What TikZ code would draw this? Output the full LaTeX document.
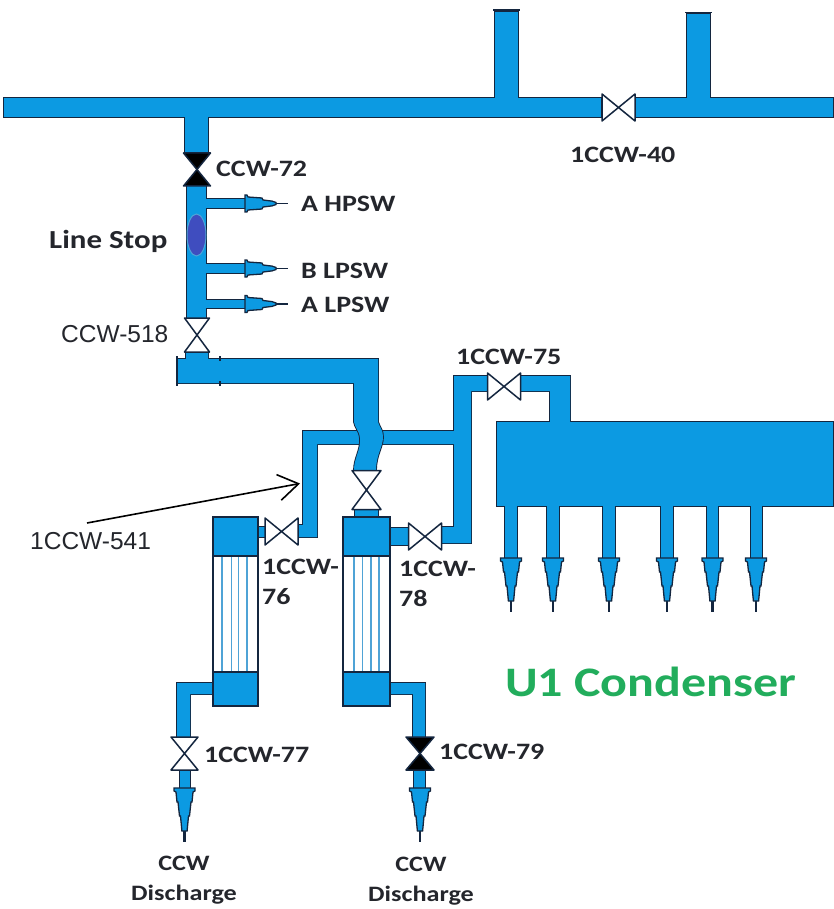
\documentclass[tikz,border=0pt]{standalone}
\usepackage{fontspec}
\setmainfont[FakeStretch=1.19]{Carlito}
\newfontfamily\arialf{Liberation Sans}
\usetikzlibrary{arrows.meta}
\definecolor{pipeblue}{HTML}{0C9AE2}
\definecolor{pipeedge}{HTML}{14263F}
\definecolor{tubeblue}{HTML}{4FA3D6}
\definecolor{stopblue}{HTML}{3F4DBF}
\definecolor{labelink}{HTML}{24262C}
\definecolor{greenlabel}{HTML}{22AD5C}
\tikzset{
  x=1pt,y=-1pt,
  outl/.style={draw=pipeedge,line width=1.8pt,line join=miter},
  inner/.style={fill=pipeblue,draw=none},
  tag/.style={font=\bfseries\fontsize{23.5}{30}\selectfont,text=labelink,inner sep=0pt,anchor=west,align=left},
  plain/.style={font=\arialf\fontsize{24.5}{28}\selectfont,text=labelink,inner sep=0pt,anchor=west},
  center tag/.style={tag,anchor=center,align=center},
  valve line/.style={draw=pipeedge,line width=1.5pt,line join=round},
}
% pipes of the upper header (drawn by a pass with style #1)
\newcommand\HeaderPipes[1]{
  \path[#1] (4,98) rectangle (601,117);
  \path[#1] (636,98) rectangle (833,117);
  \path[#1] (495,12) rectangle (518,98);
  \path[#1] (687,14) rectangle (710,98);
  \path[#1] (185,117) rectangle (208,153);
  \path[#1] (187,186) rectangle (206,318);
  \path[#1] (206,199) rectangle (246,208);
  \path[#1] (206,264) rectangle (246,273);
  \path[#1] (206,300) rectangle (246,308);
}
% pipes of the cooler and condenser network
\newcommand\LowerPipes[1]{
  \path[#1] (303,525) -- (303,431) -- (454,431) -- (454,527) -- (442,527) -- (442,543) -- (471,543) -- (471,391) -- (487,391) -- (487,376) -- (454,376) -- (454,444) -- (317,444) -- (317,537) -- (298,537) -- (298,525) -- cycle;
  \path[#1] (258,527) rectangle (266,537);
  \path[#1] (390,528) rectangle (408,545);
  \path[#1] (521,376) -- (570,376) -- (570,423) -- (550,423) -- (550,391) -- (521,391) -- cycle;
  \path[#1] (497,422) rectangle (833,506);
  \path[#1] (505,506) rectangle (517,558);
  \path[#1] (547,506) rectangle (559,558);
  \path[#1] (603,506) rectangle (615,558);
  \path[#1] (661,506) rectangle (673,558);
  \path[#1] (707,506) rectangle (718,558);
  \path[#1] (751,506) rectangle (762,558);
  \path[#1] (213,683) -- (177,683) -- (177,738) -- (190,738) -- (190,694) -- (213,694) -- cycle;
  \path[#1] (390,683) -- (425,683) -- (425,738) -- (413,738) -- (413,694) -- (390,694) -- cycle;
  \path[#1] (180,770) rectangle (190,790);
  \path[#1] (414,770) rectangle (425,790);
}
% the pipe from CCW-518 that crosses the network
\newcommand\CrossPipe[1]{
  \path[#1] (186,352) -- (186,359) -- (378,359) -- (378,422) .. controls (380,428) and (383,430) .. (383,437) .. controls (383,447) and (376,455) .. (376,470) -- (354,470) .. controls (354,458) and (361,450) .. (360,438) .. controls (359,430) and (355,428) .. (354,422) -- (354,383) -- (177,383) -- (177,359) -- (186,359) -- (208,359) -- (208,352) -- cycle;
}
% vertical valve: centre, half width, half height, fill
\newcommand\ValveV[5]{
  \draw[valve line,fill=#5] (#1-#3,#2-#4) -- (#1+#3,#2-#4) -- (#1-#3,#2+#4) -- (#1+#3,#2+#4) -- cycle;
}
% horizontal valve
\newcommand\ValveH[5]{
  \draw[valve line,fill=#5] (#1-#3,#2-#4) -- (#1-#3,#2+#4) -- (#1+#3,#2-#4) -- (#1+#3,#2+#4) -- cycle;
}
% stepped arrow pointing down; centre x, top y
\newcommand\HeadDown[2]{
  \begin{scope}[shift={(#1,#2)}]
    \draw[line width=2.2pt,pipeedge] (0,42) -- (0,54);
    \draw[outl,fill=pipeblue,line width=1.3pt] (-10.5,0) -- (-10.5,3) -- (-8.5,4) -- (-7.5,14) -- (-6.5,14) -- (-5,28) -- (-4,28) -- (-2.6,43) -- (2.6,43) -- (4,28) -- (5,28) -- (6.5,14) -- (7.5,14) -- (8.5,4) -- (10.5,3) -- (10.5,0) -- cycle;
  \end{scope}
}
% stepped arrow pointing right; left x, centre y
\newcommand\HeadRight[2]{
  \begin{scope}[shift={(#1,#2)}]
    \draw[line width=1.5pt,pipeedge] (27,0) -- (43,0);
    \draw[outl,fill=pipeblue,line width=1.3pt] (0,-8.5) -- (2,-8.5) -- (3,-6.5) -- (17,-5.5) -- (18,-3.5) -- (27,-2.4) -- (31,-1) -- (31,1) -- (27,2.4) -- (18,3.5) -- (17,5.5) -- (3,6.5) -- (2,8.5) -- (0,8.5) -- cycle;
  \end{scope}
}
% shell and tube cooler: left, right, then four tube x positions
\newcommand\Cooler[6]{
  \draw[pipeedge,line width=1.8pt,fill=white] (#1,517) rectangle (#2,706);
  \foreach \t in {#3,#4,#5,#6} \draw[tubeblue,line width=1.5pt] (\t,556) -- (\t,672);
  \draw[pipeedge,line width=1.4pt,fill=pipeblue] (#1,517) rectangle (#2,556);
  \draw[pipeedge,line width=1.4pt,fill=pipeblue] (#1,672) rectangle (#2,706);
}
\begin{document}
\begin{tikzpicture}
\useasboundingbox (0,0) rectangle (833,909);
\fill[white] (0,0) rectangle (833,909);

% header pipes
\HeaderPipes{outl}
\HeaderPipes{inner}
\draw[pipeedge,line width=1.6pt] (493,10) -- (520,10);
\draw[pipeedge,line width=1.6pt] (685,12.5) -- (712,12.5);

% network and crossing pipe
\LowerPipes{outl}
\LowerPipes{inner}
\CrossPipe{outl}
\CrossPipe{inner}
\draw[pipeedge,line width=1.6pt] (177,356) -- (177,386) (220,356) -- (220,361) (220,381) -- (220,386);

% line stop
\draw[draw=tubeblue,fill=stopblue,line width=1pt] (196.5,235) ellipse (9.5 and 21);

% arrows
\HeadRight{245}{203.5}
\HeadRight{245}{268.5}
\HeadRight{245}{304}
\foreach \c in {511,553,609,667,712.5,756} {\HeadDown{\c}{558}}
\HeadDown{184.5}{788}
\HeadDown{420}{788}

% coolers
\draw[pipeedge,line width=1pt,fill=pipeblue] (354,508) rectangle (378,517);
\Cooler{213}{258}{222}{231.5}{238.5}{247}
\Cooler{343}{390}{354}{362.5}{371}{379}

% valves
\ValveH{618.5}{107.5}{16.5}{13.5}{white}
\ValveV{197}{169.5}{13.5}{16.5}{black}
\ValveV{197}{335}{12.5}{17}{white}
\ValveV{366.5}{490}{14.5}{19.5}{white}
\ValveH{504}{386.5}{16.5}{13.5}{white}
\ValveH{281.5}{531.5}{16.5}{13.5}{white}
\ValveH{425}{536.5}{16.5}{13.5}{white}
\ValveV{184.5}{753.5}{13.5}{16.5}{white}
\ValveV{420}{753.5}{14}{16.5}{black}

% labels
\node[tag] (l40) at (570,155) {1CCW-40};
\node[tag] (l72) at (216,169) {CCW-72};
\node[tag] (lah) at (301,204) {A HPSW};
\node[tag] (lbl) at (301,271) {B LPSW};
\node[tag] (lal) at (301,305) {A LPSW};
\node[tag,font=\bfseries\fontsize{26}{30}\selectfont] (lstop) at (49,241) {Line Stop};
\node[plain] (l518) at (61,334) {CCW-518};
\node[tag] (l75) at (456,357) {1CCW-75};
\node[plain] (l541) at (30,541) {1CCW-541};
\node[tag,anchor=north west] (l76) at (262,559) {1CCW-\\76};
\node[tag,anchor=north west] (l78) at (399,561) {1CCW-\\78};
\node[tag] (l77) at (204,755) {1CCW-77};
\node[tag] (l79) at (439,752) {1CCW-79};
\node[center tag,font=\bfseries\fontsize{22}{30}\selectfont] (d1) at (184,880) {CCW\\Discharge};
\node[center tag,font=\bfseries\fontsize{22}{30}\selectfont] (d2) at (421,881) {CCW\\Discharge};
\node[inner sep=0pt,anchor=west,text=greenlabel,font=\bfseries\fontsize{42}{50}\selectfont] (lu1) at (505,682) {U1 Condenser};

% pointer
\coordinate (ptr) at (300,483.5);
\coordinate (ptrs) at (87,523);
\draw[black,line width=1.6pt,-{Straight Barb[length=20pt,width=26pt,line width=1.6pt]}] (ptrs) -- (ptr);
\end{tikzpicture}
\end{document}
